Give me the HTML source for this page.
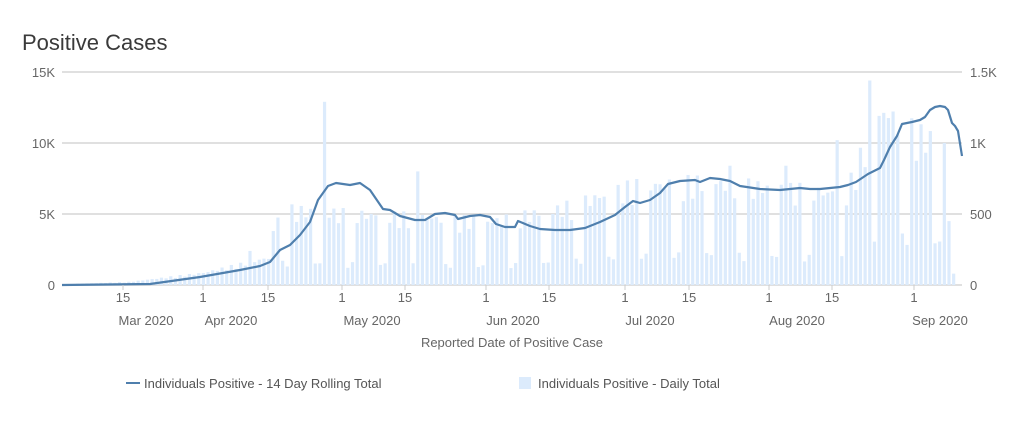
<!DOCTYPE html>
<html><head><meta charset="utf-8"><style>
body{margin:0;background:#fff;font-family:"Liberation Sans",sans-serif;}
svg text{font-family:"Liberation Sans",sans-serif;}
</style></head><body>
<svg id="s" width="1023" height="418" xmlns="http://www.w3.org/2000/svg">
<text x="22" y="50" font-size="22" fill="#3a3a3a">Positive Cases</text>
<g stroke="#e0e0e0" stroke-width="2">
<line x1="62" x2="962" y1="72" y2="72"/><line x1="62" x2="962" y1="143" y2="143"/><line x1="62" x2="962" y1="214" y2="214"/><line x1="62" x2="962" y1="285" y2="285"/>
</g>
<g font-size="13" fill="#666" text-anchor="end">
<text x="55" y="77">15K</text><text x="55" y="148">10K</text><text x="55" y="219">5K</text><text x="55" y="290">0</text>
</g>
<g font-size="13" fill="#666">
<text x="970" y="77">1.5K</text><text x="970" y="148">1K</text><text x="970" y="219">500</text><text x="970" y="290">0</text>
</g>
<g id="bars" fill="#dcebfc"></g>
<polyline fill="none" stroke="#4f7fad" stroke-width="2.2" stroke-linejoin="round" points="62,285 150,284 200,277 240,270 260,266 270,262 280,250 290,245 300,235 310,222 318,200 328,186 336,183 350,185 360,183 370,190 383,209 390,210 400,216 415,220 425,220 435,214 445,213 455,215 458,219 470,216 480,215 490,217 496,224 505,227 515,227 518,221 530,226 540,229 555,230 570,230 585,228 600,222 615,215 625,207 633,201 640,203 650,200 660,193 668,184 680,181 695,180 700,182 710,178 720,179 730,181 740,186 760,189 780,190 790,189 800,188 810,189 820,189 840,187 848,185 856,182 868,174 876,170 880,168 884,160 890,147 897,136 902,124 912,122 920,120 925,117 930,110 935,107 940,106 945,107 948,110 952,123 955,126 958,131 962,156"/>
<g id="ticks" stroke="#ccc" stroke-width="1"></g>
<g font-size="13" fill="#666" text-anchor="middle">
<text x="123" y="302">15</text><text x="203" y="302">1</text><text x="268" y="302">15</text><text x="342" y="302">1</text><text x="405" y="302">15</text><text x="486" y="302">1</text><text x="549" y="302">15</text><text x="625" y="302">1</text><text x="689" y="302">15</text><text x="769" y="302">1</text><text x="832" y="302">15</text><text x="914" y="302">1</text>
<text x="146" y="325">Mar 2020</text><text x="231" y="325">Apr 2020</text><text x="372" y="325">May 2020</text><text x="513" y="325">Jun 2020</text><text x="650" y="325">Jul 2020</text><text x="797" y="325">Aug 2020</text><text x="940" y="325">Sep 2020</text>
<text x="512" y="347">Reported Date of Positive Case</text>
</g>
<line x1="126" x2="140" y1="383" y2="383" stroke="#4f7fad" stroke-width="2"/>
<text x="144" y="388" font-size="13" fill="#555">Individuals Positive - 14 Day Rolling Total</text>
<rect x="519" y="377" width="12" height="12" fill="#dcebfc"/>
<text x="538" y="388" font-size="13" fill="#555">Individuals Positive - Daily Total</text>
</svg>
<script>
var ns="http://www.w3.org/2000/svg";
function lvl(d){var k=[[0,5],[14,20],[30,80],[44,180],[46,500],[61,470],[92,420],[106,500],[122,650],[137,680],[168,600],[170,780],[176,1150],[183,1000],[193,900]];
for(var i=0;i<k.length-1;i++){if(d<=k[i+1][0]){var t=(d-k[i][0])/(k[i+1][0]-k[i][0]);return k[i][1]+t*(k[i+1][1]-k[i][1]);}}return 900;}
var sp={56:1290,166:1020,173:1440,40:240,76:800,143:840,155:840};
var g=document.getElementById("bars");
for(var d=0;d<192;d++){var v=lvl(d);var m=((d-47)%7+7)%7;
if(d>=44&&(m==0||m==1))v*=0.3;
v*=0.85+0.3*Math.abs(Math.sin(d*1.7));
if(sp[d])v=sp[d];
if(d==191)v=80;if(d==190)v=450;if(d==189)v=1000;
var h=v*213/1500;var r=document.createElementNS(ns,"rect");
r.setAttribute("x",62+d*4.66);r.setAttribute("y",285-h);r.setAttribute("width",3.2);r.setAttribute("height",h);g.appendChild(r);}
var tk=document.getElementById("ticks");
[123,203,268,342,405,486,549,625,689,769,832,914].forEach(function(x){var l=document.createElementNS(ns,"line");l.setAttribute("x1",x);l.setAttribute("x2",x);l.setAttribute("y1",285);l.setAttribute("y2",290);tk.appendChild(l);});
</script>
</body></html>
